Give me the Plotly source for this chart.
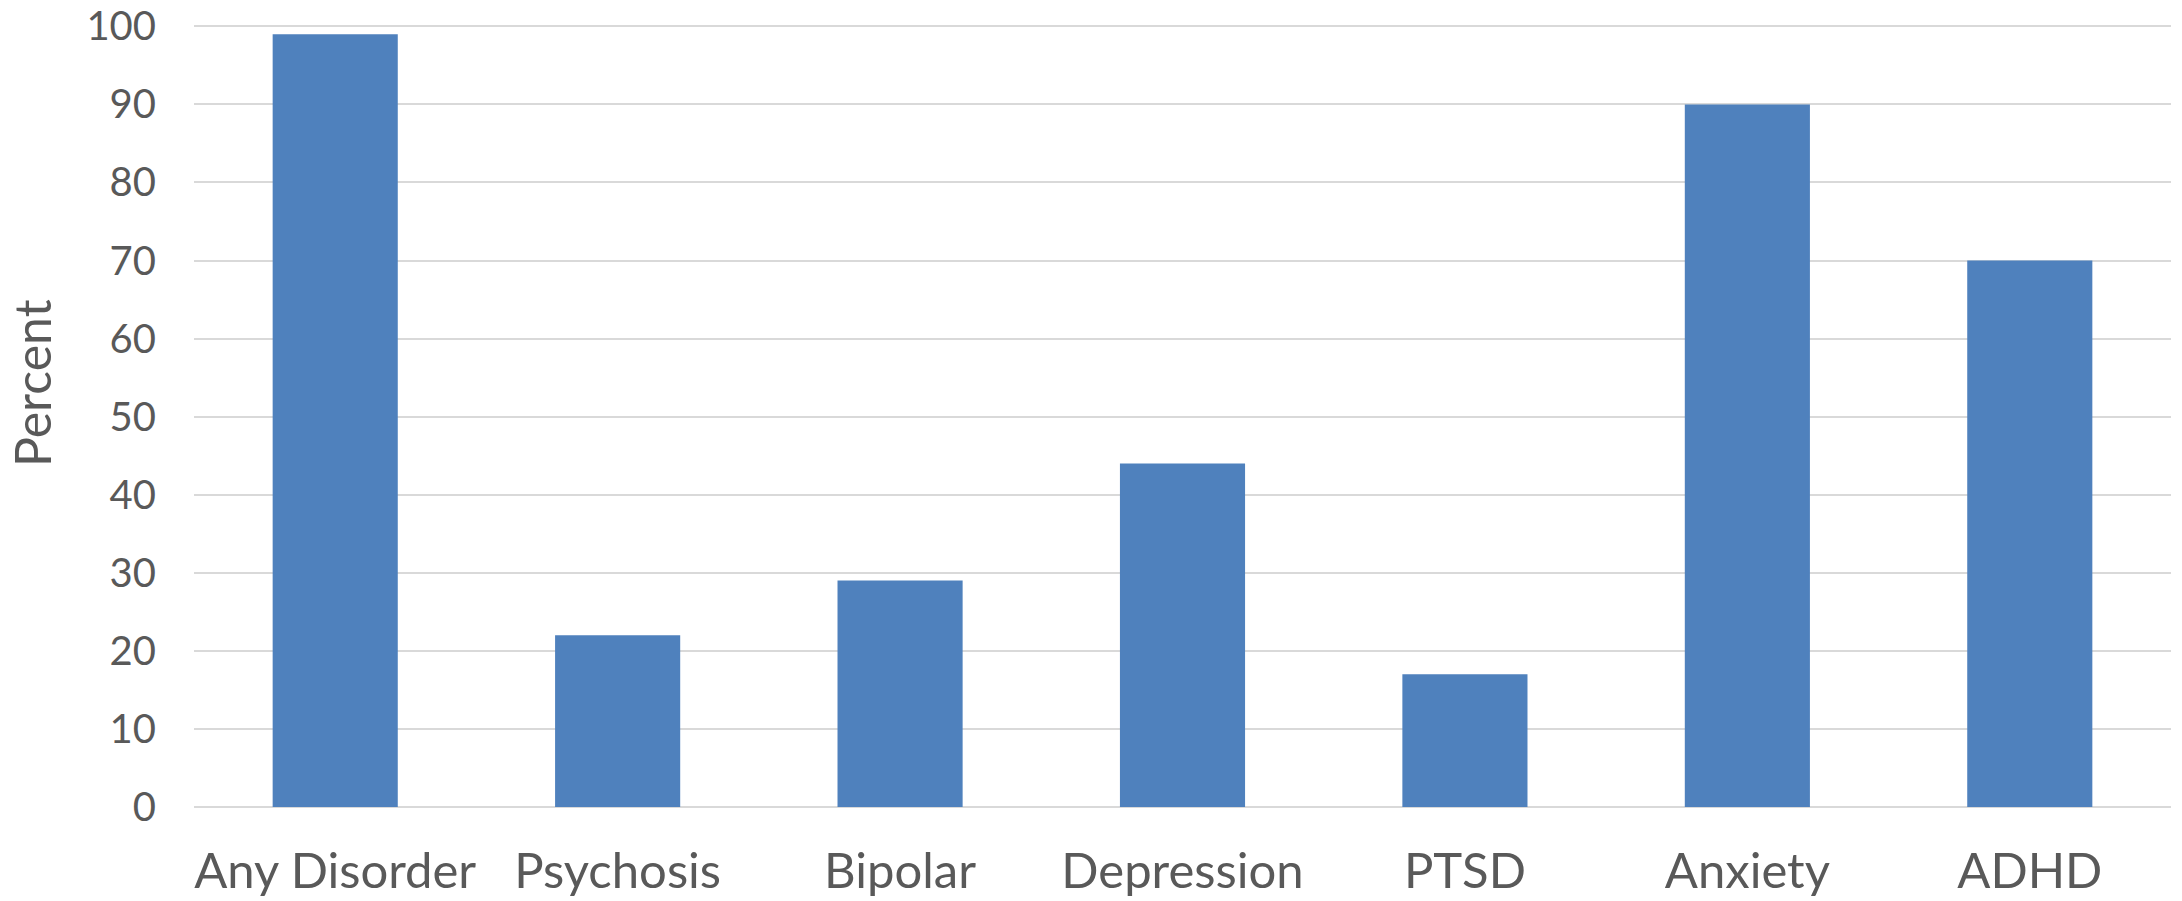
import plotly.graph_objects as go

categories = ["Any Disorder", "Psychosis", "Bipolar", "Depression", "PTSD", "Anxiety", "ADHD"]
percent = [99, 22, 29, 44, 17, 90, 70]
y_ticks = [0, 10, 20, 30, 40, 50, 60, 70, 80, 90, 100]

W, H = 2182, 901
# plot area: 0 at y=807, 100 at y=26 (reference); range padded a little at the top
# so the 100 gridline is not clipped at the plot edge
Y_TOP = 100.3
PX_PER_UNIT = 781 / 100
L = 194
PW = 1977
PH = round(Y_TOP * PX_PER_UNIT)
B = 901 - 807
T = H - B - PH
R = W - L - PW

fig = go.Figure(go.Bar(
    x=categories, y=percent,
    marker=dict(color="#4f81bd", line=dict(width=0)),
))

font_family = "Lato, Carlito, Calibri, sans-serif"
fig.update_layout(
    width=W, height=H,
    margin=dict(l=L, r=R, t=T, b=B, pad=0, autoexpand=False),
    plot_bgcolor="white", paper_bgcolor="white",
    bargap=0.557,
    showlegend=False,
    font=dict(family=font_family, color="#595959"),
)
fig.update_xaxes(
    type="category",
    range=[-0.5, len(categories) - 0.5],
    showgrid=False, showline=False, zeroline=False,
    ticks="", automargin=False,
    tickfont=dict(size=49, color="#595959", family=font_family),
    ticklabelstandoff=31,
    ticklabeloverflow="allow",
)
fig.update_yaxes(
    range=[0, Y_TOP],
    tickvals=y_ticks,
    showgrid=True, gridcolor="#d9d9d9", gridwidth=2,
    zeroline=True, zerolinecolor="#d9d9d9", zerolinewidth=2,
    showline=False, ticks="", automargin=False,
    tickfont=dict(size=40, color="#595959", family=font_family),
    ticklabelstandoff=37,
    ticklabeloverflow="allow",
)
fig.add_annotation(
    text="Percent", textangle=-90,
    xref="paper", yref="paper",
    x=(32 - L) / PW, y=(807 - 383) / PH,
    xanchor="center", yanchor="middle",
    showarrow=False, borderpad=0,
    font=dict(size=50, color="#595959", family=font_family),
)

fig.write_html(
    "out.html",
    config={"displayModeBar": False},
    post_script="document.body.style.margin='0px';document.body.style.overflow='hidden';",
)
